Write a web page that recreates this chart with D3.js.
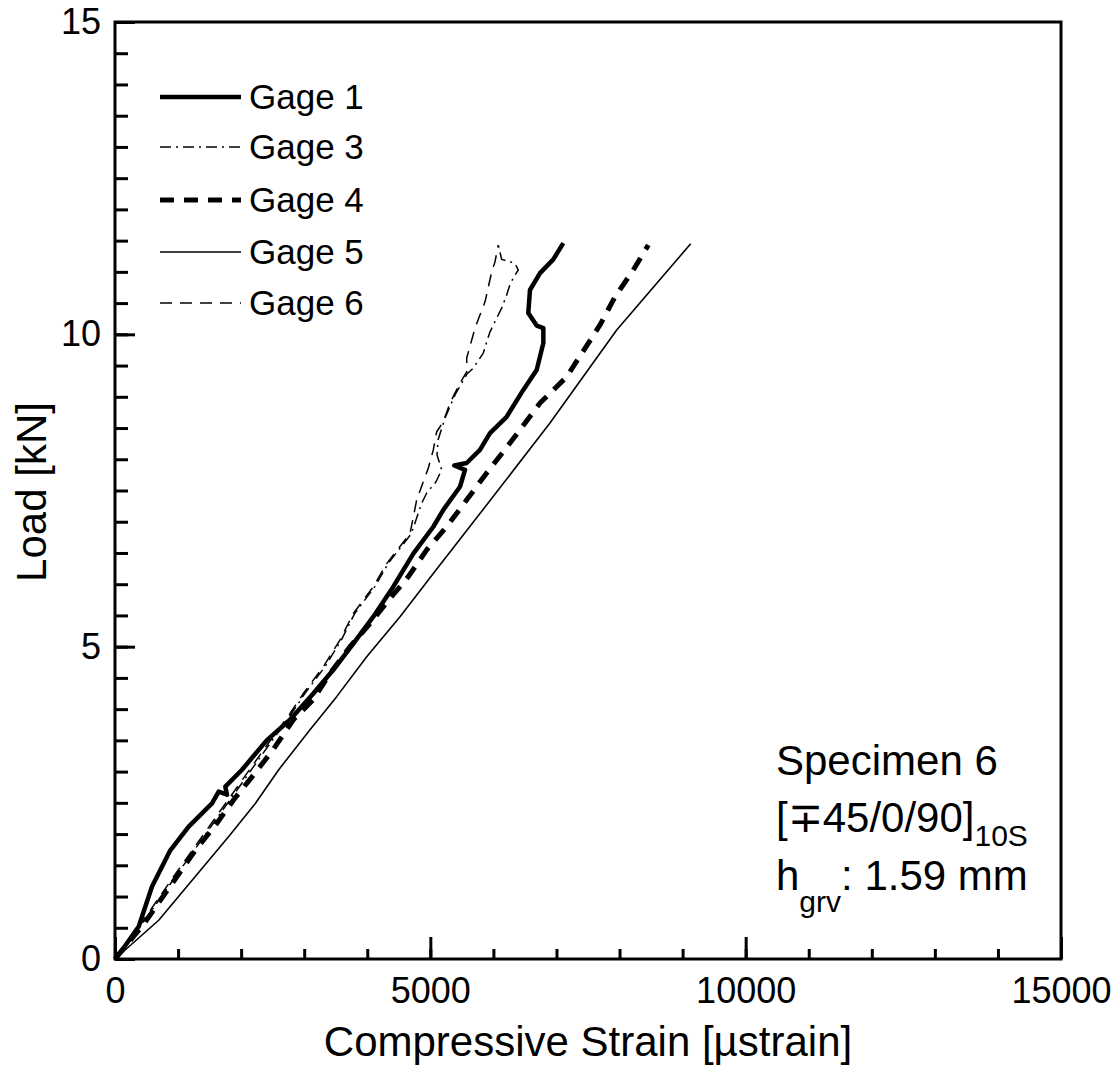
<!DOCTYPE html>
<html>
<head>
<meta charset="utf-8">
<script src="https://cdn.jsdelivr.net/npm/d3@7"></script>
<style>
  body { margin: 0; background: #fff; }
</style>
</head>
<body>
<div></div>
<script>
// Data (strain in microstrain, load in kN)
let gage1Strain = [0, 111, 376, 587, 877, 1168, 1538, 1644, 1776, 1749, 2014, 2405, 2775, 3145, 3462, 3779, 4096, 4413, 4730, 5047, 5206, 5470, 5550, 5380, 5576, 5787, 5946, 6210, 6474, 6686, 6792, 6792, 6686, 6553, 6580, 6739, 6950, 7108];
let gage1Load = [0, 0.14, 0.52, 1.16, 1.74, 2.12, 2.49, 2.68, 2.63, 2.76, 3.03, 3.5, 3.83, 4.25, 4.63, 5.05, 5.48, 5.96, 6.49, 6.92, 7.19, 7.56, 7.83, 7.9, 7.94, 8.15, 8.42, 8.68, 9.11, 9.43, 9.86, 10.1, 10.14, 10.34, 10.71, 10.98, 11.2, 11.46];

let gage3Strain = [0, 470, 980, 1480, 1980, 2430, 2800, 3010, 3330, 3590, 3800, 4120, 4330, 4700, 4860, 4942, 5090, 5180, 5106, 5122, 5233, 5391, 5577, 5681, 5840, 5894, 5946, 6052, 6131, 6210, 6263, 6342, 6395, 6340, 6131, 6078];
let gage3Load = [0, 0.62, 1.35, 2.06, 2.77, 3.41, 3.93, 4.25, 4.68, 5.11, 5.53, 5.96, 6.33, 6.81, 7.29, 7.46, 7.64, 7.83, 8.07, 8.31, 8.66, 9.03, 9.36, 9.46, 9.7, 9.88, 10.04, 10.26, 10.42, 10.63, 10.8, 10.95, 11.03, 11.14, 11.2, 11.43];

let gage4Strain = [0, 450, 719, 983, 1273, 1591, 1882, 2199, 2506, 2827, 3143, 3409, 3726, 4043, 4360, 4651, 4942, 5259, 5577, 5893, 6263, 6739, 7162, 7690, 7928, 8218, 8456];
let gage4Load = [0, 0.55, 0.94, 1.32, 1.74, 2.14, 2.55, 2.95, 3.35, 3.83, 4.15, 4.57, 5.0, 5.37, 5.77, 6.12, 6.55, 6.92, 7.35, 7.78, 8.26, 8.9, 9.32, 10.15, 10.6, 11.03, 11.43];

let gage5Strain = [0, 693, 1273, 1803, 2225, 2596, 3092, 3515, 3991, 4519, 5047, 5787, 6897, 7955, 9128];
let gage5Load = [0, 0.62, 1.32, 1.96, 2.49, 3.03, 3.67, 4.2, 4.84, 5.48, 6.17, 7.13, 8.58, 10.07, 11.45];

let gage6Strain = [0, 450, 950, 1450, 1950, 2400, 2775, 2986, 3303, 3568, 3779, 4096, 4308, 4678, 4784, 4888, 4968, 5047, 5101, 5206, 5312, 5391, 5470, 5577, 5577, 5708, 5867, 5973, 6025, 6077];
let gage6Load = [0, 0.62, 1.35, 2.06, 2.77, 3.41, 3.93, 4.25, 4.68, 5.11, 5.53, 5.96, 6.33, 6.81, 7.35, 7.64, 7.86, 8.15, 8.44, 8.6, 8.9, 9.06, 9.22, 9.4, 9.62, 10.1, 10.52, 11.0, 11.16, 11.43];

let gageNames = ["Gage 1", "Gage 3", "Gage 4", "Gage 5", "Gage 6"];
let xMajorTicks = [0, 5000, 10000, 15000];
let yMajorTicks = [0, 5, 10, 15];

let width = 1120;
let height = 1070;
let plotLeft = 115;
let plotRight = 1061;
let plotTop = 22;
let plotBottom = 959;
let font = "'Liberation Sans', Arial, Helvetica, sans-serif";

let svg = d3.select("div").append("svg")
  .attr("width", width)
  .attr("height", height)
  .style("font-family", font);

let x = d3.scaleLinear().domain([0, 15000]).range([plotLeft, plotRight]);
let y = d3.scaleLinear().domain([0, 15]).range([plotBottom, plotTop]);

// Series styles, in legend order
let series = [
  { name: gageNames[0], xs: gage1Strain, ys: gage1Load, w: 4.5, dash: null },
  { name: gageNames[1], xs: gage3Strain, ys: gage3Load, w: 1.5, dash: "11,5,2,5" },
  { name: gageNames[2], xs: gage4Strain, ys: gage4Load, w: 5, dash: "14,10" },
  { name: gageNames[3], xs: gage5Strain, ys: gage5Load, w: 1.6, dash: null },
  { name: gageNames[4], xs: gage6Strain, ys: gage6Load, w: 1.5, dash: "12,8" }
];

let line = d3.line()
  .x(d => x(d[0]))
  .y(d => y(d[1]));

series.forEach(function (s) {
  let pts = s.xs.map((v, i) => [v, s.ys[i]]);
  svg.append("path")
    .datum(pts)
    .attr("d", line)
    .attr("fill", "none")
    .attr("stroke", "#000")
    .attr("stroke-width", s.w)
    .attr("stroke-linejoin", "round")
    .attr("stroke-dasharray", s.dash);
});

// Axes: inward ticks, minor ones without labels
let xMinor = d3.axisBottom(x).tickValues(d3.range(0, 15001, 1000)).tickSize(-10).tickFormat("");
let xMajor = d3.axisBottom(x).tickValues(xMajorTicks).tickSize(-22).tickPadding(18).tickFormat(d3.format("d"));
let yMinor = d3.axisLeft(y).tickValues(d3.range(0, 15.01, 0.5)).tickSize(-13).tickFormat("");
let yMajor = d3.axisLeft(y).tickValues(yMajorTicks).tickSize(-20).tickPadding(14).tickFormat(d3.format("d"));

[xMinor, xMajor].forEach(function (ax) {
  svg.append("g")
    .attr("transform", "translate(0," + plotBottom + ")")
    .call(ax);
});
[yMinor, yMajor].forEach(function (ax) {
  svg.append("g")
    .attr("transform", "translate(" + plotLeft + ",0)")
    .call(ax);
});

svg.selectAll(".domain").remove();
svg.selectAll(".tick line").attr("stroke", "#000").attr("stroke-width", 3);
svg.selectAll(".tick text")
  .attr("fill", "#000")
  .style("font-size", "36px")
  .style("font-family", font);

// Frame
svg.append("rect")
  .attr("x", plotLeft)
  .attr("y", plotTop)
  .attr("width", plotRight - plotLeft)
  .attr("height", plotBottom - plotTop)
  .attr("fill", "none")
  .attr("stroke", "#000")
  .attr("stroke-width", 3);

// Axis titles
svg.append("text")
  .attr("x", (plotLeft + plotRight) / 2)
  .attr("y", 1056)
  .attr("text-anchor", "middle")
  .style("font-size", "42px")
  .text("Compressive Strain [\u00b5strain]");

svg.append("text")
  .attr("transform", "translate(46," + 492 + ") rotate(-90)")
  .attr("text-anchor", "middle")
  .style("font-size", "42px")
  .text("Load [kN]");

// Legend
let legendY = [97, 147, 200, 252, 303];
series.forEach(function (s, i) {
  svg.append("line")
    .attr("x1", 160)
    .attr("x2", 241)
    .attr("y1", legendY[i])
    .attr("y2", legendY[i])
    .attr("stroke", "#000")
    .attr("stroke-width", s.w)
    .attr("stroke-dasharray", s.dash);
  svg.append("text")
    .attr("x", 249)
    .attr("y", legendY[i] + 12)
    .style("font-size", "35px")
    .text(s.name);
});

// Specimen annotation
svg.append("text")
  .attr("x", 776)
  .attr("y", 775)
  .style("font-size", "42px")
  .text("Specimen 6");

let lay = svg.append("text")
  .attr("x", 776)
  .attr("y", 832)
  .style("font-size", "42px");
lay.append("tspan").text("[\u221345/0/90]");
lay.append("tspan").attr("dy", 14).style("font-size", "30px").text("10S");

let hg = svg.append("text")
  .attr("x", 776)
  .attr("y", 890)
  .style("font-size", "42px");
hg.append("tspan").text("h");
hg.append("tspan").attr("dy", 22).style("font-size", "30px").text("grv");
hg.append("tspan").attr("dy", -22).text(": 1.59 mm");
</script>
</body>
</html>
